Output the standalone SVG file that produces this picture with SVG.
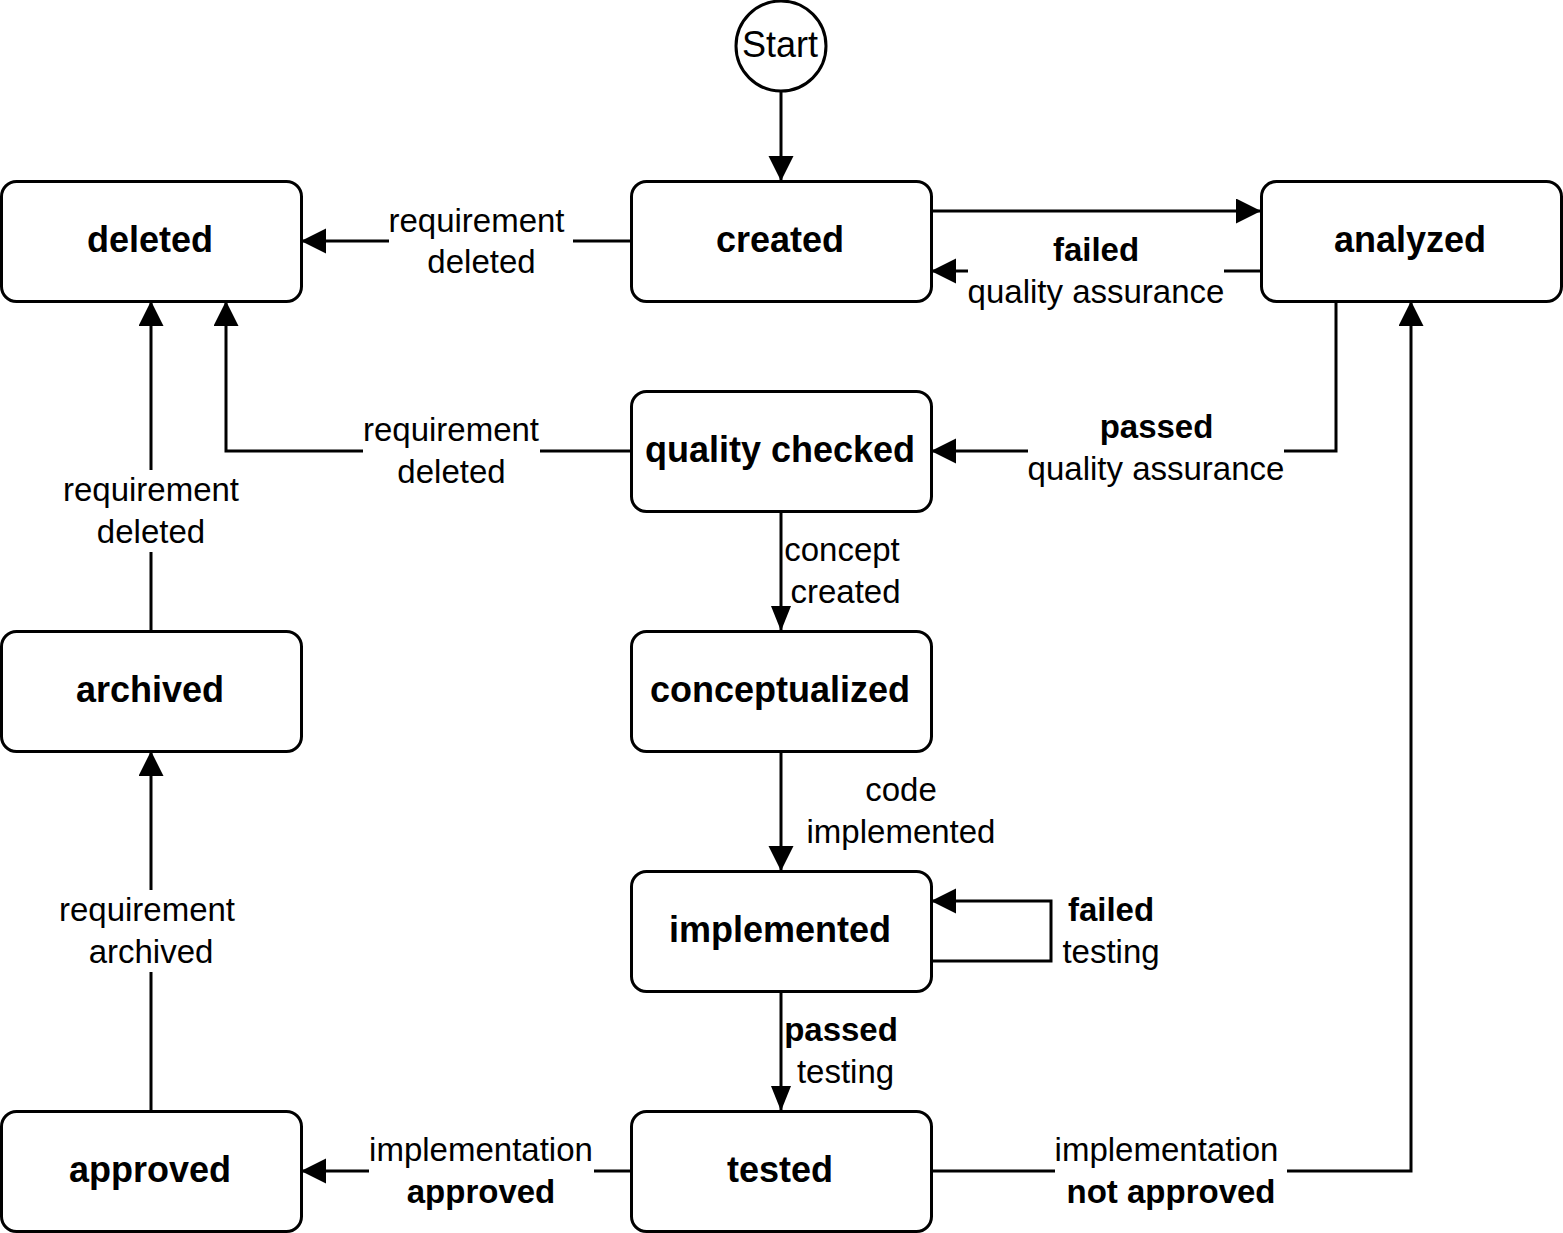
<svg xmlns="http://www.w3.org/2000/svg" width="1563" height="1233" viewBox="0 0 1563 1233">
<defs>
<style>
.node rect, .node circle { fill: #ffffff; stroke: #000000; stroke-width: 3; }
.nt { font-family: "Liberation Sans", Arial, sans-serif; font-size: 36px; font-weight: bold; text-anchor: middle; fill: #000; }
.st { font-family: "Liberation Sans", Arial, sans-serif; font-size: 36px; text-anchor: middle; fill: #000; }
.edge { fill: none; stroke: #000000; stroke-width: 3; }
.a { marker-end: url(#arr); }
.an { marker-end: url(#arrn); }
.lbg { fill: #ffffff; stroke: none; }
.lt { font-family: "Liberation Sans", Arial, sans-serif; font-size: 33px; text-anchor: middle; fill: #000; }
.b { font-weight: bold; }
</style>
<marker id="arr" markerUnits="userSpaceOnUse" markerWidth="26" markerHeight="26" refX="25" refY="12.5" orient="auto" viewBox="0 0 26 26">
<path d="M0,0 L25,12.5 L0,25 Z" fill="#000"/>
</marker>
<marker id="arrn" markerUnits="userSpaceOnUse" markerWidth="26" markerHeight="22" refX="25" refY="10" orient="auto" viewBox="0 0 26 22">
<path d="M0,0 L25,10 L0,20 Z" fill="#000"/>
</marker>
</defs>
<rect x="0" y="0" width="1563" height="1233" fill="#ffffff"/>

<g id="connectors">
<path class="edge a" d="M781,91 L781,181"/>
<path class="edge a" d="M631,241 L301,241"/>
<path class="edge a" d="M931,211 L1261,211"/>
<path class="edge a" d="M1261,271 L931,271"/>
<path class="edge a" d="M1336,301 L1336,451 L931,451"/>
<path class="edge a" d="M631,451 L226,451 L226,301"/>
<path class="edge a" d="M151,631 L151,301"/>
<path class="edge an" d="M781,511 L781,631"/>
<path class="edge a" d="M781,751 L781,871"/>
<path class="edge a" d="M931,961 L1051,961 L1051,901 L931,901"/>
<path class="edge an" d="M781,991 L781,1111"/>
<path class="edge a" d="M631,1171 L301,1171"/>
<path class="edge a" d="M931,1171 L1411,1171 L1411,301"/>
<path class="edge a" d="M151,1111 L151,751"/>

<g id="label-created-deleted">
<rect class="lbg" x="389" y="203" width="184" height="76"/>
<text class="lt" x="476.5" y="232">requirement</text>
<text class="lt" x="481.5" y="273">deleted</text>
</g>
<g id="label-analyzed-created">
<rect class="lbg" x="968" y="230" width="256" height="80"/>
<text class="lt b" x="1096" y="261">failed</text>
<text class="lt" x="1096" y="303">quality assurance</text>
</g>
<g id="label-analyzed-qc">
<rect class="lbg" x="1028" y="410" width="256" height="76"/>
<text class="lt b" x="1156.5" y="438">passed</text>
<text class="lt" x="1156" y="480">quality assurance</text>
</g>
<g id="label-qc-deleted">
<rect class="lbg" x="363" y="412" width="177" height="76"/>
<text class="lt" x="451" y="441">requirement</text>
<text class="lt" x="451.5" y="483">deleted</text>
</g>
<g id="label-archived-deleted">
<rect class="lbg" x="63" y="470" width="176" height="82"/>
<text class="lt" x="151" y="501">requirement</text>
<text class="lt" x="151" y="543">deleted</text>
</g>
<g id="label-qc-concept">
<text class="lt" x="842" y="561">concept</text>
<text class="lt" x="845.5" y="603">created</text>
</g>
<g id="label-concept-impl">
<text class="lt" x="901" y="801">code</text>
<text class="lt" x="901" y="843">implemented</text>
</g>
<g id="label-impl-loop">
<text class="lt b" x="1111" y="921">failed</text>
<text class="lt" x="1111" y="963">testing</text>
</g>
<g id="label-impl-tested">
<text class="lt b" x="841" y="1041">passed</text>
<text class="lt" x="845.5" y="1083">testing</text>
</g>
<g id="label-tested-approved">
<rect class="lbg" x="369" y="1130" width="225" height="80"/>
<text class="lt" x="481" y="1161">implementation</text>
<text class="lt b" x="481" y="1203">approved</text>
</g>
<g id="label-tested-analyzed">
<rect class="lbg" x="1055" y="1130" width="232" height="80"/>
<text class="lt" x="1166.5" y="1161">implementation</text>
<text class="lt b" x="1171" y="1203">not approved</text>
</g>
<g id="label-approved-archived">
<rect class="lbg" x="59" y="890" width="180" height="82"/>
<text class="lt" x="147" y="921">requirement</text>
<text class="lt" x="151" y="963">archived</text>
</g>
</g>

<g id="start" class="node">
<circle cx="781" cy="46" r="45"/>
<text class="st" x="780" y="57">Start</text>
</g>
<g id="deleted" class="node">
<rect x="1.5" y="181.5" width="300" height="120" rx="15" ry="15"/>
<text class="nt" x="150" y="252">deleted</text>
</g>
<g id="created" class="node">
<rect x="631.5" y="181.5" width="300" height="120" rx="15" ry="15"/>
<text class="nt" x="780" y="252">created</text>
</g>
<g id="analyzed" class="node">
<rect x="1261.5" y="181.5" width="300" height="120" rx="15" ry="15"/>
<text class="nt" x="1410" y="252">analyzed</text>
</g>
<g id="quality-checked" class="node">
<rect x="631.5" y="391.5" width="300" height="120" rx="15" ry="15"/>
<text class="nt" x="780" y="462">quality checked</text>
</g>
<g id="archived" class="node">
<rect x="1.5" y="631.5" width="300" height="120" rx="15" ry="15"/>
<text class="nt" x="150" y="702">archived</text>
</g>
<g id="conceptualized" class="node">
<rect x="631.5" y="631.5" width="300" height="120" rx="15" ry="15"/>
<text class="nt" x="780" y="702">conceptualized</text>
</g>
<g id="implemented" class="node">
<rect x="631.5" y="871.5" width="300" height="120" rx="15" ry="15"/>
<text class="nt" x="780" y="942">implemented</text>
</g>
<g id="approved" class="node">
<rect x="1.5" y="1111.5" width="300" height="120" rx="15" ry="15"/>
<text class="nt" x="150" y="1182">approved</text>
</g>
<g id="tested" class="node">
<rect x="631.5" y="1111.5" width="300" height="120" rx="15" ry="15"/>
<text class="nt" x="780" y="1182">tested</text>
</g>
</svg>
